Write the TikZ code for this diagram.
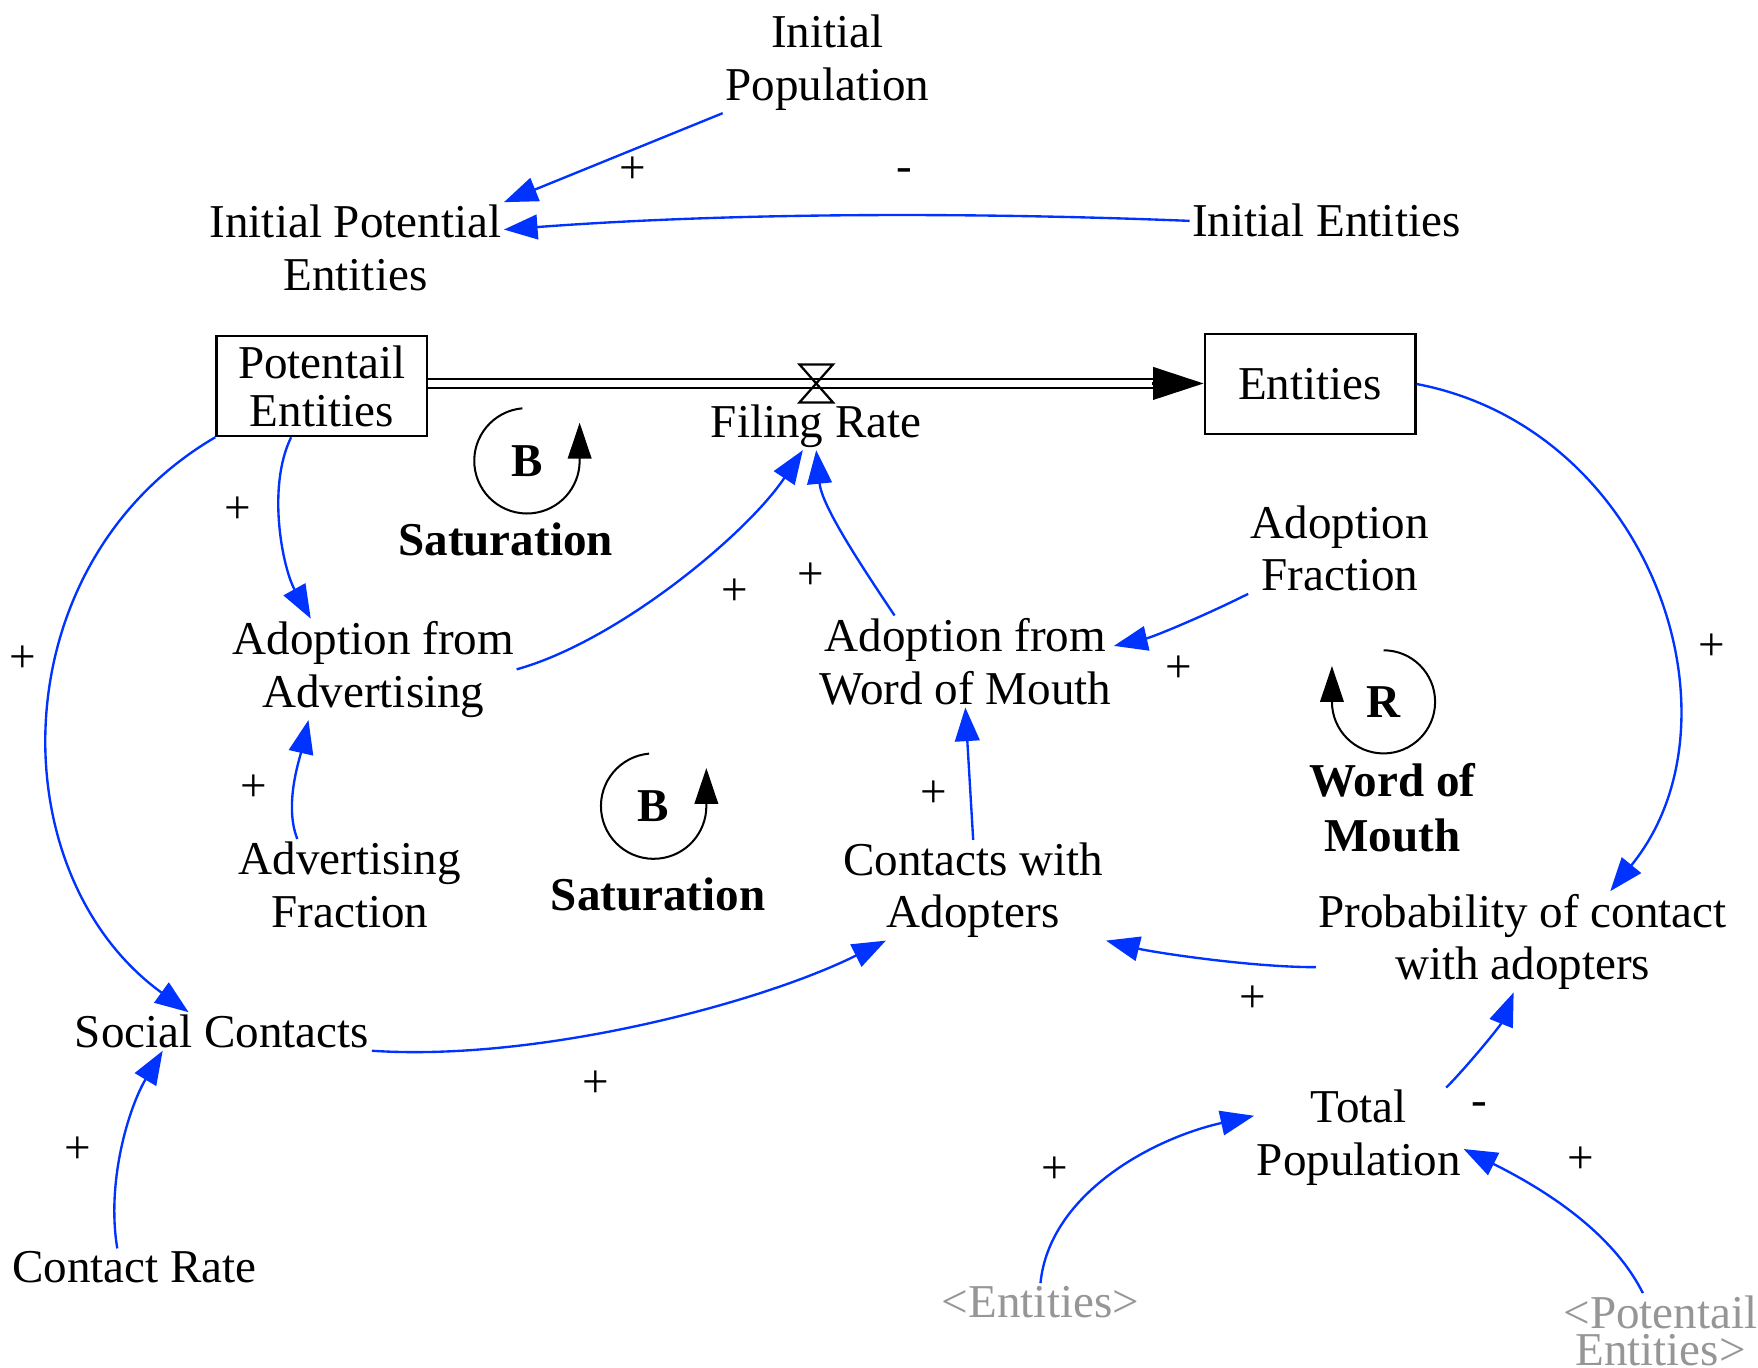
\documentclass[tikz,border=0pt]{standalone}
\usepackage{fontspec}
\setmainfont{Liberation Serif}
\usepackage{xcolor}
\usetikzlibrary{arrows.meta}

\definecolor{linkblue}{RGB}{0,51,255}
\definecolor{ghostgray}{RGB}{150,150,150}

\begin{document}
\begin{tikzpicture}[
  x=0.5pt, y=-0.5pt,
  every node/.style={font=\fontsize{21pt}{23.5pt}\selectfont, inner sep=1pt},
  var/.style={align=center},
  stock/.style={draw, line width=1pt, align=center, minimum width=94pt, minimum height=44.5pt, inner sep=0pt, font=\fontsize{21pt}{21.5pt}\selectfont},
  ghost/.style={align=center, text=ghostgray, font=\fontsize{21pt}{16.5pt}\selectfont},
  loopmark/.style={font=\fontsize{21pt}{23.5pt}\selectfont\bfseries},
  looplabel/.style={align=center, font=\fontsize{21pt}{24.5pt}\selectfont\bfseries},
  sign/.style={inner sep=0pt},
  link/.style={-{Triangle[length=15pt, width=11pt]}, linkblue, line width=1.05pt},
  pipe/.style={double, double distance=3pt, line width=1pt, shorten >=21pt},
  flowtip/.style={-{Triangle[length=22.5pt, width=14.5pt]}, line width=1pt},
  valveshape/.style={line width=1pt},
  loopline/.style={-{Triangle[length=16pt, width=10.5pt]}, line width=0.9pt}
]
\useasboundingbox (0,0) rectangle (1568,1220);

\node[var] (initpop) at (738,56) {Initial\\Population};
\node[var] (initpot) at (317,221) {Initial Potential\\Entities};
\node[var] (initent) at (1183,197) {Initial Entities};
\node[stock] (pot) at (287,344.5) {Potentail\\Entities};
\node[stock] (ent) at (1168.5,342.5) {Entities};
\coordinate (valve) at (728,342);
\node[var] (filing) at (728,380) {Filing Rate};
\node[var] (adadv) at (333,597) {Adoption from\\Advertising};
\node[var] (adwom) at (861,590) {Adoption from\\Word of Mouth};
\node[var] (adfrac) at (1195,489) {Adoption\\Fraction};
\node[var] (advfrac) at (312,789) {Advertising\\Fraction};
\node[var] (contacts) at (868,794) {Contacts with\\Adopters};
\node[var] (prob) at (1358,840) {Probability of contact\\with adopters};
\node[var] (social) at (198,920) {Social Contacts};
\node[var] (total) at (1212,1015) {Total\\Population};
\node[var] (crate) at (120,1130) {Contact Rate};
\node[ghost] (ghostent) at (928,1161) {<Entities>};
\node[ghost] (ghostpot) at (1481,1187) {<Potentail\\Entities>};

\draw[pipe] (pot.east |- valve) -- (ent.west |- valve);
\draw[flowtip] (ent.west |- valve) ++(-46,0) -- (ent.west |- valve);
\draw[valveshape] (valve) ++(-15,-17) -- ++(30,0) -- ++(-30,34) -- ++(30,0) -- cycle;

\node[loopmark] (b1) at (470,411) {B};
\draw[loopline] (b1.center) ++(95:23.5pt) arc[start angle=95, end angle=360, radius=23.5pt] -- ++(0pt,17pt);
\node[looplabel] (b1name) at (451,481) {Saturation};
\node[loopmark] (b2) at (583,719) {B};
\draw[loopline] (b2.center) ++(95:23.5pt) arc[start angle=95, end angle=360, radius=23.5pt] -- ++(0pt,17pt);
\node[looplabel] (b2name) at (587,798) {Saturation};
\node[loopmark] (r1) at (1234,626) {R};
\draw[loopline] (r1.center) ++(90:23pt) arc[start angle=90, end angle=-180, radius=23pt] -- ++(0pt,16pt);
\node[looplabel] (r1name) at (1242,720) {Word of\\Mouth};

\draw[link] (initpop.south west) -- (initpot.north east);
\draw[link] (initent.west) .. controls +(-200,-8) and +(200,-15) .. (initpot.7);
\draw[link] (pot.239) .. controls +(-22,45) and +(-25,-45) .. (adadv.141);
\draw[link] (pot.south west) .. controls +(-193,113) and +(-170,-123) .. (social.150);
\draw[link] (advfrac.139) .. controls +(-12,-30) and +(-8,35) .. (adadv.218);
\draw[link] (adadv.east) .. controls +(90,-25) and +(-50,75) .. (filing.-119);
\draw[link] (adwom.147) .. controls +(-30,-45) and +(5,50) .. (filing.south);
\draw[link] (adfrac.south west) .. controls +(-40,20) and +(35,-8) .. (adwom.6);
\draw[link] (contacts.north) -- (adwom.south);
\draw[link] (ent.east) .. controls +(210,40) and +(124,-152) .. (prob.30);
\draw[link] (prob.187) .. controls +(-60,0) and +(40,10) .. (contacts.south east);
\draw[link] (social.south east) .. controls +(150,10) and +(-110,55) .. (contacts.-150);
\draw[link] (crate.133) .. controls +(-10,-60) and +(-30,50) .. (social.-162);
\draw[link] (total.30) .. controls +(18,-18) and +(-12,30) .. (prob.-100);
\draw[link] (ghostent.north) .. controls +(8,-80) and +(-90,20) .. (total.168);
\draw[link] (ghostpot.115) .. controls +(-30,-60) and +(60,30) .. (total.-6);

\node[sign] (s1) at (564,152) {+};
\node[sign] (s2) at (807,156) {-};
\node[sign] (s3) at (212,455) {+};
\node[sign] (s4) at (20,588) {+};
\node[sign] (s5) at (226,703) {+};
\node[sign] (s6) at (655,528) {+};
\node[sign] (s7) at (723,514) {+};
\node[sign] (s8) at (1051,597) {+};
\node[sign] (s9) at (833,708) {+};
\node[sign] (s10) at (1527,577) {+};
\node[sign] (s11) at (1117,891) {+};
\node[sign] (s12) at (531,967) {+};
\node[sign] (s13) at (69,1026) {+};
\node[sign] (s14) at (1319,989) {-};
\node[sign] (s15) at (941,1044) {+};
\node[sign] (s16) at (1410,1035) {+};

\end{tikzpicture}
\end{document}
